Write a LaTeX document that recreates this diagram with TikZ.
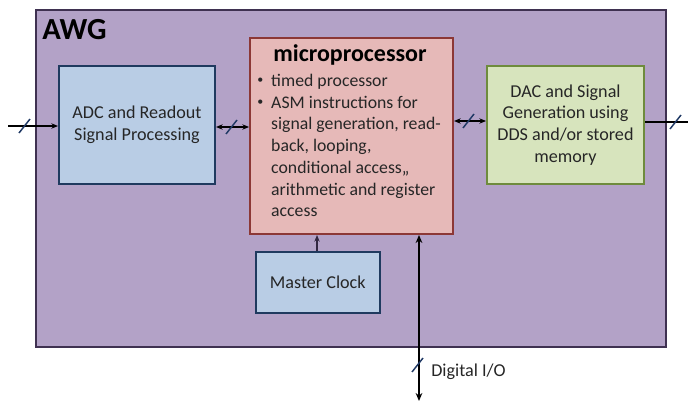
\documentclass[tikz,border=0pt]{standalone}
\usepackage{fontspec}
\setmainfont{Carlito}
\usetikzlibrary{arrows.meta,calc}
\definecolor{awgfill}{HTML}{B3A2C7}
\definecolor{awgdraw}{HTML}{3F3151}
\definecolor{bluefill}{HTML}{B9CDE5}
\definecolor{bluedraw}{HTML}{1F3A5F}
\definecolor{redfill}{HTML}{E6B9B8}
\definecolor{reddraw}{HTML}{8C3836}
\definecolor{greenfill}{HTML}{D7E4BD}
\definecolor{greendraw}{HTML}{6E8B3D}
\definecolor{txt}{HTML}{262626}
\definecolor{slashc}{HTML}{1F3864}
\newcommand{\mybul}{\raisebox{0.35ex}{\fontsize{9}{9}\selectfont\textbullet}}
\tikzset{
  blk/.style={draw, line width=1.5pt, inner sep=0pt, anchor=north west, text=txt, align=center,
    font=\fontsize{13.6}{16.3}\selectfont},
  conn/.style={draw=black, line width=0.8pt},
  tip/.style={-{Stealth[length=5pt,width=4pt]}},
  slashmark/.style={draw=slashc, line width=1.1pt},
}
\begin{document}
\begin{tikzpicture}[x=0.75pt,y=-0.75pt]
\useasboundingbox (0,0) rectangle (688,403);
% AWG container
\node[draw=awgdraw, fill=awgfill, line width=1.2pt, minimum width=630*0.75pt, minimum height=337*0.75pt, anchor=north west, inner sep=0pt] (awg) at (35,9) {};
\node[anchor=north west, font=\fontsize{23}{27}\selectfont\bfseries, text=black, inner sep=0pt] (awglabel) at (42,19) {AWG};
% blocks
\node[blk, draw=bluedraw, fill=bluefill, minimum width=156*0.75pt, minimum height=118*0.75pt] (adc) at (58,65) {ADC and Readout\\Signal Processing};
\node[blk, draw=reddraw, fill=redfill, minimum width=203*0.75pt, minimum height=196*0.75pt] (mp) at (249,37) {};
\node[blk, draw=greendraw, fill=greenfill, minimum width=157*0.75pt, minimum height=118*0.75pt] (dac) at (486,65) {DAC and Signal\\Generation using\\DDS and/or stored\\memory};
\node[blk, draw=bluedraw, fill=bluefill, line width=1.2pt, minimum width=124*0.75pt, minimum height=61*0.75pt] (clk) at (255,251) {Master Clock};
% microprocessor text
\node[font=\fontsize{18}{21}\selectfont\bfseries, text=black, inner sep=0pt] (mptitle) at (350,55) {microprocessor};
\node[anchor=north west, inner sep=0pt, text=txt, font=\fontsize{13.3}{16.3}\selectfont] (mpbody) at (257,71)
{\begin{tabular}{@{}l@{\hspace{6pt}}l@{}}
\mybul & timed processor\\
\mybul & ASM instructions for\\
 & signal generation, read-\\
 & back, looping,\\
 & conditional access,,\\
 & arithmetic and register\\
 & access
\end{tabular}};
% connectors
\coordinate (inL) at (8,126);
\coordinate (outR) at (688,122);
\coordinate (dio) at (419,401);
\draw[conn, tip] (inL) -- (adc.west |- inL);
\draw[conn, {Stealth[length=5pt,width=4pt]}-{Stealth[length=5pt,width=4pt]}] (adc.east |- 0,127) -- (mp.west |- 0,127);
\draw[conn, {Stealth[length=5pt,width=4pt]}-{Stealth[length=5pt,width=4pt]}] (mp.east |- 0,121) -- (dac.west |- 0,121);
\draw[conn] (dac.east |- outR) -- (outR);
\draw[draw=awgdraw!80!black, line width=0.8pt, tip] (clk.north -| 317,0) -- (mp.south -| 317,0);
\draw[draw=black, line width=1.5pt, {Stealth[length=6pt,width=5pt]}-{Stealth[length=6pt,width=5pt]}] (mp.south -| dio) -- (dio);
% slash marks
\draw[slashmark] (19,133) -- (30,119);
\draw[slashmark] (226,134) -- (237,120);
\draw[slashmark] (463,128) -- (474,114);
\draw[slashmark] (670,129) -- (681,115);
\draw[slashmark] (412,372) -- (423,358);
% label
\node[anchor=west, text=txt, font=\fontsize{13.6}{16.3}\selectfont, inner sep=0pt] (diolabel) at (431,372) {Digital I/O};
\end{tikzpicture}
\end{document}
